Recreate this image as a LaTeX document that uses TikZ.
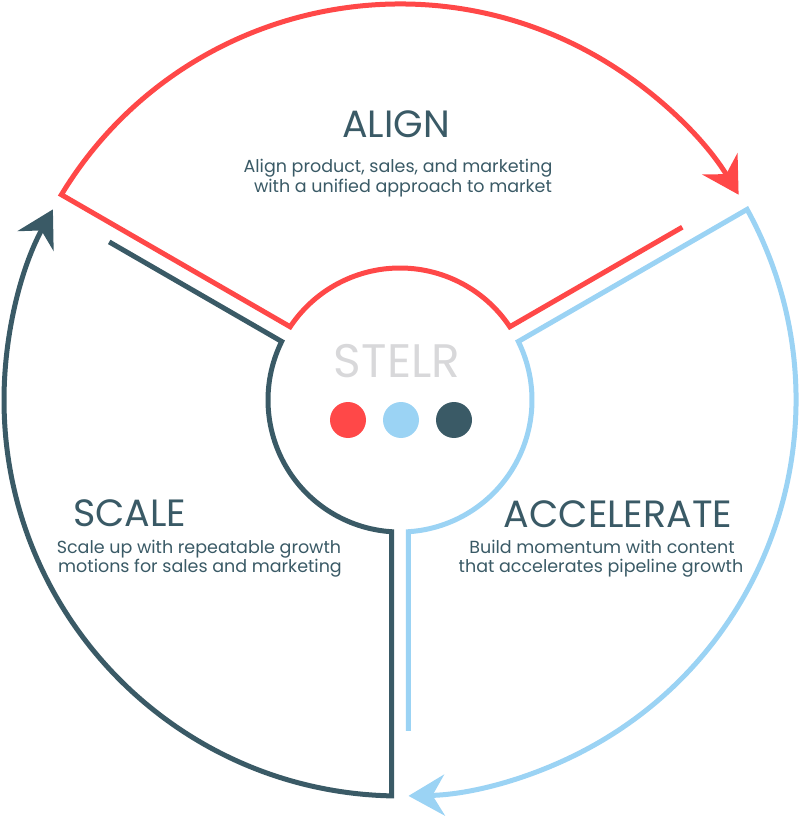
\documentclass[tikz,border=0pt]{standalone}
\usepackage{fontspec}
\setmainfont{Poppins}
\usepackage{tikz}
\usetikzlibrary{arrows.meta}
\definecolor{alignred}{HTML}{FF4848}
\definecolor{accelblue}{HTML}{9BD3F4}
\definecolor{scaledark}{HTML}{3A5A66}
\definecolor{logogray}{HTML}{D8D8DA}

\begin{document}
\begin{tikzpicture}[x=1pt,y=1pt,
    ring/.style={line width=5pt, line join=miter},
    ringtip/.style={-{Stealth[length=36pt,width=41pt,inset=12pt]}},
    title/.style={text=scaledark, font=\fontsize{38}{42}\selectfont, anchor=base, inner sep=0pt},
    blurb/.style={text=scaledark, font=\fontsize{17.5}{20}\selectfont, anchor=base, inner sep=0pt},
    dot/.style={circle, minimum size=36pt, inner sep=0pt}]
  \useasboundingbox (-400,-416) rectangle (400,400);
  % ring: outer 396, inner 132, slots 17 wide
  \def\Ro{396} \def\Ri{132} \def\Re{331}
  \pgfmathsetmacro\angOut{asin(8.5/\Ro)}
  \pgfmathsetmacro\angIn{asin(8.5/\Ri)}
  \pgfmathsetmacro\angEnd{asin(8.5/\Re)}
  % align
  \draw[ring, ringtip, alignred] ({30+\angEnd}:\Re) -- ({30+\angIn}:\Ri)
    arc[start angle={30+\angIn}, end angle={150-\angIn}, radius=\Ri] -- ({150-\angOut}:\Ro)
    arc[start angle={150-\angOut}, end angle={30+\angOut}, radius=\Ro];
  % accelerate
  \draw[ring, ringtip, accelblue] ({-90+\angEnd}:\Re) -- ({-90+\angIn}:\Ri)
    arc[start angle={-90+\angIn}, end angle={30-\angIn}, radius=\Ri] -- ({30-\angOut}:\Ro)
    arc[start angle={30-\angOut}, end angle={-90+\angOut}, radius=\Ro];
  % scale
  \draw[ring, ringtip, scaledark] ({150+\angEnd}:\Re) -- ({150+\angIn}:\Ri)
    arc[start angle={150+\angIn}, end angle={270-\angIn}, radius=\Ri] -- ({270-\angOut}:\Ro)
    arc[start angle={270-\angOut}, end angle={150+\angOut}, radius=\Ro];

  \node[text=logogray, font=\fontsize{47}{50}\selectfont, anchor=base, inner sep=0pt] (logo) at (-3,22) {STELR};
  \node[dot, fill=alignred] (aligndot) at (-52,-20) {};
  \node[dot, fill=accelblue] (acceldot) at (1,-20) {};
  \node[dot, fill=scaledark] (scaledot) at (54,-20) {};

  \node[title] (aligntitle) at (-4,262) {ALIGN};
  \node[blurb] (alignblurb) at (-2,227) {Align product, sales, and marketing};
  \node[blurb] (alignblurbb) at (3,207) {with a unified approach to market};
  \node[title, anchor=base west] (scaletitle) at (-327,-126) {SCALE};
  \node[blurb] (scaleblurb) at (-201,-153) {Scale up with repeatable growth};
  \node[blurb] (scaleblurbb) at (-200,-172) {motions for sales and marketing};
  \node[title] (acceltitle) at (218,-127) {ACCELERATE};
  \node[blurb] (accelblurb) at (202,-153) {Build momentum with content};
  \node[blurb] (accelblurbb) at (201,-172) {that accelerates pipeline growth};
\end{tikzpicture}
\end{document}
